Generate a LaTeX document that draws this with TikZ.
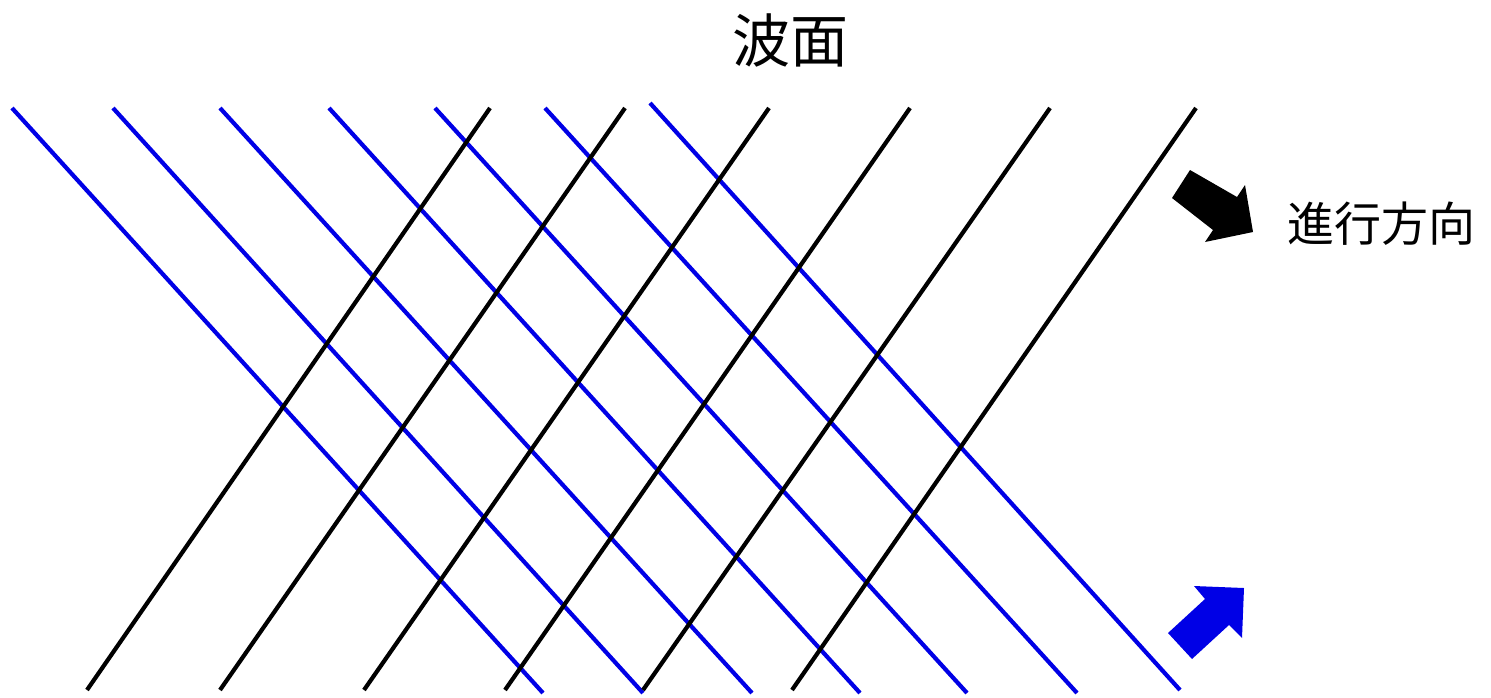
\documentclass[tikz,border=0pt]{standalone}
\usepackage{fontspec}
\newfontfamily\cjk{Noto Sans CJK JP}
\definecolor{waveblue}{RGB}{0,0,230}
\begin{document}
\begin{tikzpicture}[x=1pt,y=-1pt,
  wave/.style={line width=4.2pt},
  bluewave/.style={wave, draw=waveblue},
  blackwave/.style={wave, draw=black},
  lbl/.style={inner sep=0pt}]
\useasboundingbox (0,0) rectangle (1491,697);
% blue wavefronts
\foreach \a/\b/\ya/\yb in {12/543/108/693, 113/643/108/693, 220/752/108/693, 329/860/108/693, 435/967/108/693, 545/1077/108/693, 650/1180/103/690}
  \draw[bluewave] (\a,\ya) -- (\b,\yb);
% black wavefronts
\foreach \a/\b in {87/490, 220/625, 364/769, 505/910, 643/1050, 792/1196}
  \draw[blackwave] (\a,690) -- (\b,108);
% arrows
\fill[black] (1190,170) -- (1237,197) -- (1245,185) -- (1253,232) -- (1205,242) -- (1213,230) -- (1172,198) -- cycle;
\fill[waveblue] (1168,633) -- (1192,659) -- (1229,625) -- (1242,638) -- (1244,588) -- (1194,586) -- (1205,599) -- cycle;
% labels
\node[lbl, font=\cjk\fontsize{58}{62}\selectfont] (title) at (790,40) {波面};
\node[lbl, font=\cjk\fontsize{47}{51}\selectfont] (dir) at (1381,224) {進行方向};
\end{tikzpicture}
\end{document}
